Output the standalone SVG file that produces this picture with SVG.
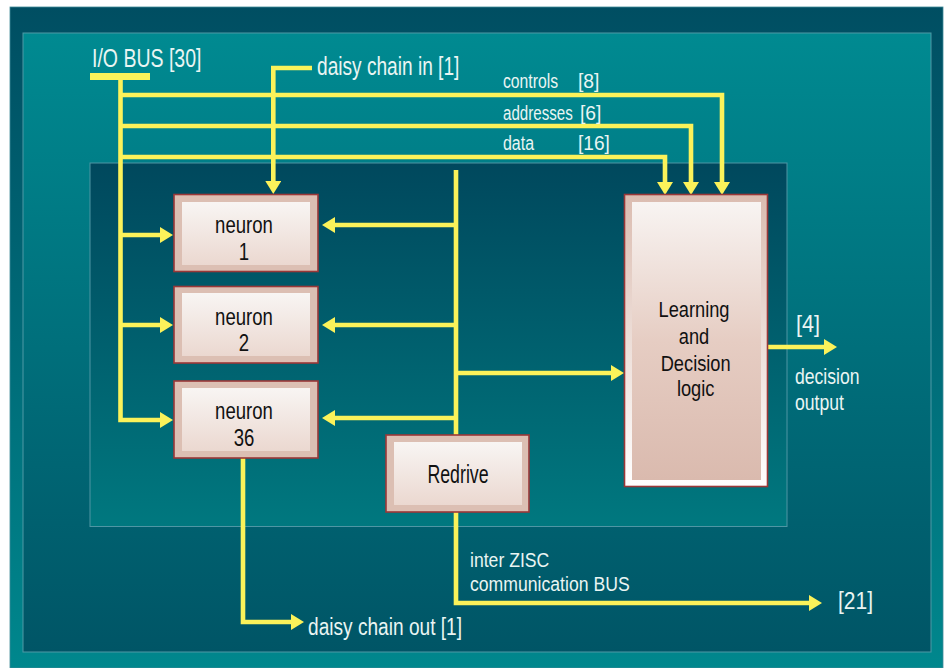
<svg xmlns="http://www.w3.org/2000/svg" width="947" height="668" viewBox="0 0 947 668">
<defs>
<linearGradient id="gFrame" x1="0" y1="0" x2="0" y2="1"><stop offset="0" stop-color="#004e62"/><stop offset="1" stop-color="#00878d"/></linearGradient>
<linearGradient id="gPanel" x1="0" y1="0" x2="0" y2="1"><stop offset="0" stop-color="#008a91"/><stop offset="1" stop-color="#005566"/></linearGradient>
<linearGradient id="gInner" x1="0" y1="0" x2="0" y2="1"><stop offset="0" stop-color="#00485d"/><stop offset="1" stop-color="#00787f"/></linearGradient>
<linearGradient id="gBoxIn" x1="0" y1="0" x2="0" y2="1"><stop offset="0" stop-color="#f8f5f3"/><stop offset="1" stop-color="#ebd8d0"/></linearGradient>
<linearGradient id="gLOut" x1="0" y1="0" x2="0" y2="1"><stop offset="0" stop-color="#dbbcb0"/><stop offset="1" stop-color="#ffffff"/></linearGradient>
<linearGradient id="gLIn" x1="0" y1="0" x2="0" y2="1"><stop offset="0" stop-color="#f8f4f2"/><stop offset="0.5" stop-color="#e6cdc3"/><stop offset="1" stop-color="#dabaae"/></linearGradient>
<marker id="ah" markerUnits="userSpaceOnUse" markerWidth="14" markerHeight="17" refX="0" refY="8" orient="auto"><path d="M0,0 L13,8 L0,16 z" fill="#fbf25a"/></marker>
</defs>
<style>
.conn{fill:none;stroke:#fbf25a;stroke-width:4.6;stroke-linejoin:miter}
.arr{marker-end:url(#ah)}
.lbl{font-family:"Liberation Sans",Arial,sans-serif;fill:#eaf5f3}
.nt{font-family:"Liberation Sans",Arial,sans-serif;fill:#111;text-anchor:middle}
.bo{fill:#dcbfb3;stroke:#9a3838;stroke-width:1.6}
.bi{fill:url(#gBoxIn)}
</style>
<rect x="10" y="7" width="933" height="661" fill="url(#gFrame)" stroke="#3f8a98" stroke-width="0.8"/>
<rect x="23" y="33" width="908" height="619" fill="url(#gPanel)" stroke="#4f9aa6" stroke-width="1"/>
<rect x="90" y="163" width="697" height="363.5" fill="url(#gInner)" stroke="#4f96a4" stroke-width="1"/>

<g id="io-bus">
<rect x="90" y="73" width="60" height="7" fill="#fbf25a"/>
<text class="lbl" font-size="25.5" transform="translate(92,67) scale(0.765,1)">I/O BUS [30]</text>
</g>

<g id="connectors">
<path class="conn arr" d="M120.5,80 V420 H160"/>
<path class="conn arr" d="M120.5,235 H160"/>
<path class="conn arr" d="M120.5,325 H160"/>
<path class="conn arr" d="M120.5,95 H722 V182"/>
<path class="conn arr" d="M120.5,126 H691 V182"/>
<path class="conn arr" d="M120.5,157 H665 V182"/>
<path class="conn arr" d="M312,68 H273.3 V181"/>
<path class="conn" d="M456,170 V435"/>
<path class="conn arr" d="M456,225 H335"/>
<path class="conn arr" d="M456,325 H335"/>
<path class="conn arr" d="M456,418 H335"/>
<path class="conn arr" d="M456,373 H611"/>
<path class="conn arr" d="M768,347 H824"/>
<path class="conn arr" d="M456,512 V603 H809"/>
<path class="conn arr" d="M243,458 V622 H291"/>
</g>

<g id="labels">
<text class="lbl" font-size="25.5" transform="translate(317,75) scale(0.75,1)">daisy chain in [1]</text>
<text class="lbl" font-size="21" transform="translate(503,88) scale(0.75,1)">controls</text>
<text class="lbl" font-size="21" transform="translate(578,88) scale(0.92,1)">[8]</text>
<text class="lbl" font-size="21" transform="translate(503,120) scale(0.72,1)">addresses</text>
<text class="lbl" font-size="21" transform="translate(580,120) scale(0.92,1)">[6]</text>
<text class="lbl" font-size="21" transform="translate(503,150) scale(0.76,1)">data</text>
<text class="lbl" font-size="21" transform="translate(578,150) scale(0.91,1)">[16]</text>
<text class="lbl" font-size="23" transform="translate(796,332) scale(0.94,1)">[4]</text>
<text class="lbl" font-size="22" transform="translate(795,384) scale(0.8,1)"><tspan x="0" y="0">decision</tspan><tspan x="0" y="26">output</tspan></text>
<text class="lbl" font-size="21" transform="translate(470,567) scale(0.84,1)"><tspan x="0" y="0">inter ZISC</tspan><tspan x="0" y="24">communication BUS</tspan></text>
<text class="lbl" font-size="24" transform="translate(838,609) scale(0.875,1)">[21]</text>
<text class="lbl" font-size="24.7" transform="translate(308,635) scale(0.774,1)">daisy chain out [1]</text>
</g>

<g id="neuron1">
<rect class="bo" x="174" y="194.5" width="144" height="77"/>
<rect class="bi" x="182" y="202" width="128" height="63"/>
<text class="nt" font-size="23.5" transform="translate(244,233) scale(0.79,1)"><tspan x="0" y="0">neuron</tspan><tspan x="0" y="27">1</tspan></text>
</g>
<g id="neuron2">
<rect class="bo" x="174" y="286.5" width="144" height="76.5"/>
<rect class="bi" x="182" y="293" width="128" height="63"/>
<text class="nt" font-size="23.5" transform="translate(244,324.5) scale(0.79,1)"><tspan x="0" y="0">neuron</tspan><tspan x="0" y="26.5">2</tspan></text>
</g>
<g id="neuron36">
<rect class="bo" x="174" y="381" width="144" height="77"/>
<rect class="bi" x="182" y="388" width="128" height="63"/>
<text class="nt" font-size="23.5" transform="translate(244,419) scale(0.79,1)"><tspan x="0" y="0">neuron</tspan><tspan x="0" y="27">36</tspan></text>
</g>
<g id="redrive">
<rect class="bo" x="386" y="435" width="143" height="77"/>
<rect class="bi" x="394" y="442" width="128" height="63"/>
<text class="nt" font-size="26.5" transform="translate(458,483) scale(0.67,1)">Redrive</text>
</g>
<g id="learning">
<rect x="624.5" y="194.5" width="143" height="292" fill="url(#gLOut)" stroke="#9a3838" stroke-width="1.6"/>
<rect x="632" y="202" width="129" height="278" fill="url(#gLIn)"/>
<text class="nt" font-size="22" transform="translate(694,317) scale(0.83,1)"><tspan x="0" y="0">Learning</tspan><tspan x="0" y="27">and</tspan><tspan x="2" y="54">Decision</tspan><tspan x="2" y="79.5">logic</tspan></text>
</g>
</svg>
